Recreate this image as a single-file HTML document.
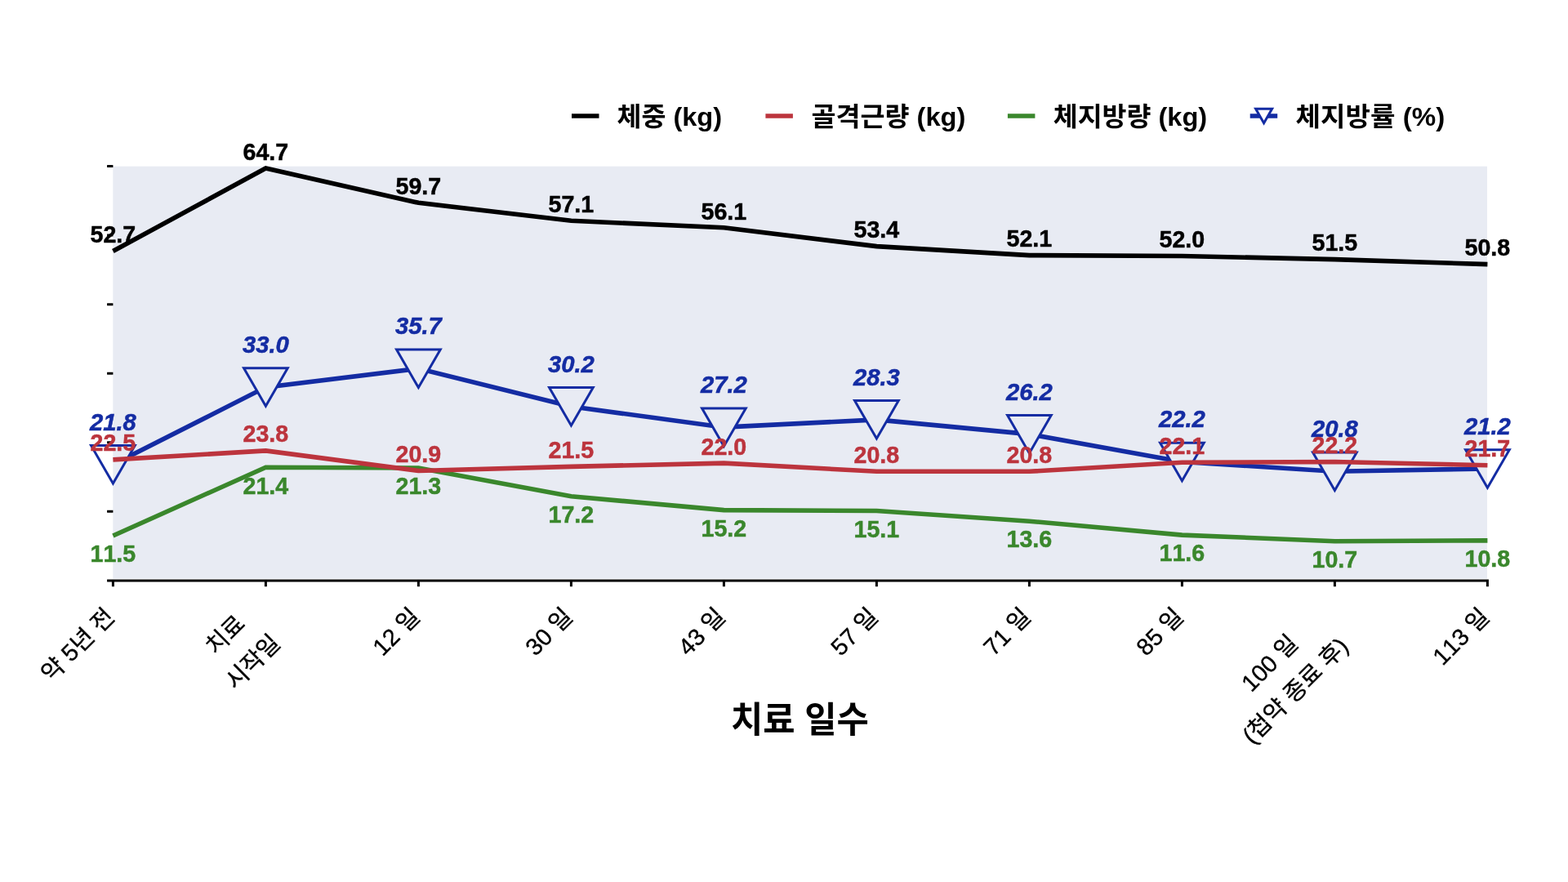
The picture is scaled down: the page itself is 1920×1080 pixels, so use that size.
<!DOCTYPE html>
<html lang="ko"><head><meta charset="utf-8"><title>치료 일수 차트</title>
<style>html,body{margin:0;padding:0;background:#fff;}body{width:1920px;height:1080px;overflow:hidden;font-family:"Liberation Sans","Noto Sans CJK KR",sans-serif;}svg{display:block;will-change:transform;}text{font-family:"Liberation Sans","Noto Sans CJK KR",sans-serif;font-weight:bold;font-kerning:none;stroke-width:0.5px;}.lb{font-size:29.5px;}.it{font-size:30.3px;font-style:italic;}.lg{font-size:32px;fill:#000;stroke:none;}.ttl{font-size:44px;fill:#000;stroke:none;}.xt{font-size:29px;font-weight:normal;fill:#000;stroke:#000;stroke-width:0.35px;}</style>
</head><body>
<svg width="1920" height="1080" viewBox="0 0 1920 1080" role="img" aria-label="치료 일수에 따른 체중, 골격근량, 체지방량, 체지방률 변화">
<rect width="1920" height="1080" fill="#fff"/>
<!-- plot background -->
<rect x="138.3" y="203.7" width="1682.7" height="504.9" fill="#E8EBF3"/>
<!-- y ticks -->
<path d="M131.1 203.5H138.4M131.1 288.07H138.4M131.1 372.64H138.4M131.1 457.21H138.4M131.1 541.78H138.4M131.1 626.35H138.4" stroke="#000" stroke-width="3" fill="none"/>
<!-- x axis + ticks -->
<path d="M131.1 711.1H1822.9M138.4 711.1V718.2M325.4 711.1V718.2M512.4 711.1V718.2M699.4 711.1V718.2M886.4 711.1V718.2M1073.4 711.1V718.2M1260.4 711.1V718.2M1447.4 711.1V718.2M1634.4 711.1V718.2M1821.4 711.1V718.2" stroke="#000" stroke-width="3" fill="none"/>
<!-- series lines (blue, green, red, black) -->
<polyline points="138.4,568.84 325.4,474.12 512.4,451.29 699.4,497.8 886.4,523.17 1073.4,513.87 1260.4,531.63 1447.4,565.46 1634.4,577.3 1821.4,573.92" fill="none" stroke="#142CA3" stroke-width="5.6" stroke-linejoin="miter"/>
<path d="M111.55 545.59H165.25L138.4 592.09ZM298.55 450.87H352.25L325.4 497.37ZM485.55 428.04H539.25L512.4 474.54ZM672.55 474.55H726.25L699.4 521.05ZM859.55 499.92H913.25L886.4 546.42ZM1046.55 490.62H1100.25L1073.4 537.12ZM1233.55 508.38H1287.25L1260.4 554.88ZM1420.55 542.21H1474.25L1447.4 588.71ZM1607.55 554.05H1661.25L1634.4 600.55ZM1794.55 550.67H1848.25L1821.4 597.17Z" fill="#E8EBF3"/>
<path d="M111.55 545.59L138.3 545.59L138.3 591.92ZM1821 550.67L1848.25 550.67L1821.4 597.17L1821 596.47Z" fill="#fff"/>
<path d="M111.55 545.59H165.25L138.4 592.09ZM298.55 450.87H352.25L325.4 497.37ZM485.55 428.04H539.25L512.4 474.54ZM672.55 474.55H726.25L699.4 521.05ZM859.55 499.92H913.25L886.4 546.42ZM1046.55 490.62H1100.25L1073.4 537.12ZM1233.55 508.38H1287.25L1260.4 554.88ZM1420.55 542.21H1474.25L1447.4 588.71ZM1607.55 554.05H1661.25L1634.4 600.55ZM1794.55 550.67H1848.25L1821.4 597.17Z" fill="none" stroke="#142CA3" stroke-width="3" stroke-linejoin="miter"/>
<polyline points="138.4,655.95 325.4,572.23 512.4,573.07 699.4,607.74 886.4,624.66 1073.4,625.5 1260.4,638.19 1447.4,655.1 1634.4,662.72 1821.4,661.87" fill="none" stroke="#3A872C" stroke-width="5.6" stroke-linejoin="miter"/>
<polyline points="138.4,562.92 325.4,551.93 512.4,576.45 699.4,571.38 886.4,567.15 1073.4,577.3 1260.4,577.3 1447.4,566.31 1634.4,565.46 1821.4,569.69" fill="none" stroke="#BC343D" stroke-width="5.6" stroke-linejoin="miter"/>
<polyline points="138.4,307.52 325.4,206.04 512.4,248.32 699.4,270.31 886.4,278.77 1073.4,301.6 1260.4,312.6 1447.4,313.44 1634.4,317.67 1821.4,323.59" fill="none" stroke="#000000" stroke-width="5.6" stroke-linejoin="miter"/>
<!-- data labels -->
<g fill="#142CA3" stroke="#142CA3" class="lb it">
<g transform="translate(138.4 526.84) scale(0.965 1)"><text x="-29.49">21.8</text></g>
<g transform="translate(325.4 432.12) scale(0.965 1)"><text x="-29.49">33.0</text></g>
<g transform="translate(512.4 409.29) scale(0.965 1)"><text x="-29.49">35.7</text></g>
<g transform="translate(699.4 455.8) scale(0.965 1)"><text x="-29.49">30.2</text></g>
<g transform="translate(886.4 481.17) scale(0.965 1)"><text x="-29.49">27.2</text></g>
<g transform="translate(1073.4 471.87) scale(0.965 1)"><text x="-29.49">28.3</text></g>
<g transform="translate(1260.4 489.63) scale(0.965 1)"><text x="-29.49">26.2</text></g>
<g transform="translate(1447.4 523.46) scale(0.965 1)"><text x="-29.49">22.2</text></g>
<g transform="translate(1634.4 535.3) scale(0.965 1)"><text x="-29.49">20.8</text></g>
<g transform="translate(1821.4 531.92) scale(0.965 1)"><text x="-29.49">21.2</text></g>
</g>
<g fill="#3A872C" stroke="#3A872C" class="lb">
<g transform="translate(138.4 688.25) scale(0.97 1)"><text x="-28.71">11.5</text></g>
<g transform="translate(325.4 604.53) scale(0.97 1)"><text x="-28.71">21.4</text></g>
<g transform="translate(512.4 605.37) scale(0.97 1)"><text x="-28.71">21.3</text></g>
<g transform="translate(699.4 640.04) scale(0.97 1)"><text x="-28.71">17.2</text></g>
<g transform="translate(886.4 656.96) scale(0.97 1)"><text x="-28.71">15.2</text></g>
<g transform="translate(1073.4 657.8) scale(0.97 1)"><text x="-28.71">15.1</text></g>
<g transform="translate(1260.4 670.49) scale(0.97 1)"><text x="-28.71">13.6</text></g>
<g transform="translate(1447.4 687.4) scale(0.97 1)"><text x="-28.71">11.6</text></g>
<g transform="translate(1634.4 695.02) scale(0.97 1)"><text x="-28.71">10.7</text></g>
<g transform="translate(1821.4 694.17) scale(0.97 1)"><text x="-28.71">10.8</text></g>
</g>
<g fill="#BC343D" stroke="#BC343D" class="lb">
<g transform="translate(138.4 552.32) scale(0.97 1)"><text x="-28.71">22.5</text></g>
<g transform="translate(325.4 541.33) scale(0.97 1)"><text x="-28.71">23.8</text></g>
<g transform="translate(512.4 565.85) scale(0.97 1)"><text x="-28.71">20.9</text></g>
<g transform="translate(699.4 560.78) scale(0.97 1)"><text x="-28.71">21.5</text></g>
<g transform="translate(886.4 556.55) scale(0.97 1)"><text x="-28.71">22.0</text></g>
<g transform="translate(1073.4 566.7) scale(0.97 1)"><text x="-28.71">20.8</text></g>
<g transform="translate(1260.4 566.7) scale(0.97 1)"><text x="-28.71">20.8</text></g>
<g transform="translate(1447.4 555.71) scale(0.97 1)"><text x="-28.71">22.1</text></g>
<g transform="translate(1634.4 554.86) scale(0.97 1)"><text x="-28.71">22.2</text></g>
<g transform="translate(1821.4 559.09) scale(0.97 1)"><text x="-28.71">21.7</text></g>
</g>
<g fill="#000000" stroke="#000000" class="lb">
<g transform="translate(138.4 297.32) scale(0.97 1)"><text x="-28.71">52.7</text></g>
<g transform="translate(325.4 195.84) scale(0.97 1)"><text x="-28.71">64.7</text></g>
<g transform="translate(512.4 238.12) scale(0.97 1)"><text x="-28.71">59.7</text></g>
<g transform="translate(699.4 260.11) scale(0.97 1)"><text x="-28.71">57.1</text></g>
<g transform="translate(886.4 268.57) scale(0.97 1)"><text x="-28.71">56.1</text></g>
<g transform="translate(1073.4 291.4) scale(0.97 1)"><text x="-28.71">53.4</text></g>
<g transform="translate(1260.4 302.4) scale(0.97 1)"><text x="-28.71">52.1</text></g>
<g transform="translate(1447.4 303.24) scale(0.97 1)"><text x="-28.71">52.0</text></g>
<g transform="translate(1634.4 307.47) scale(0.97 1)"><text x="-28.71">51.5</text></g>
<g transform="translate(1821.4 313.39) scale(0.97 1)"><text x="-28.71">50.8</text></g>
</g>
<!-- legend -->
<path d="M700 142.0H733.5" stroke="#000000" stroke-width="5.7"/>
<path d="M937.4 142.0H970.9" stroke="#BC343D" stroke-width="5.7"/>
<path d="M1233.9 142.0H1267.4" stroke="#3A872C" stroke-width="5.7"/>
<path d="M1530.7 142.0H1564.2" stroke="#142CA3" stroke-width="5.7"/>
<path d="M1537.6 133.35H1557.6L1547.6 150.65Z" fill="#fff" stroke="#142CA3" stroke-width="3"/>
<text class="lg" x="755.5" y="153.75" textLength="128.6" lengthAdjust="spacingAndGlyphs">체중 (kg)</text>
<text class="lg" x="993.6" y="153.75" textLength="188.7" lengthAdjust="spacingAndGlyphs">골격근량 (kg)</text>
<text class="lg" x="1289.7" y="153.75" textLength="188.5" lengthAdjust="spacingAndGlyphs">체지방량 (kg)</text>
<text class="lg" x="1586.6" y="153.75" textLength="182.6" lengthAdjust="spacingAndGlyphs">체지방률 (%)</text>
<!-- x axis title -->
<text class="ttl" x="979.4" y="897" text-anchor="middle" textLength="169" lengthAdjust="spacingAndGlyphs">치료 일수</text>
<!-- x tick labels -->
<text class="xt" text-anchor="end" transform="translate(141.9 757) rotate(-45)">약 5년 전</text>
<text class="xt" text-anchor="end" transform="translate(301.8 765.5) rotate(-45)">치료</text>
<text class="xt" text-anchor="end" transform="translate(344.8 789.3) rotate(-45)">시작일</text>
<text class="xt" text-anchor="end" transform="translate(515.9 757) rotate(-45)">12 일</text>
<text class="xt" text-anchor="end" transform="translate(702.9 757) rotate(-45)">30 일</text>
<text class="xt" text-anchor="end" transform="translate(889.9 757) rotate(-45)">43 일</text>
<text class="xt" text-anchor="end" transform="translate(1076.9 757) rotate(-45)">57 일</text>
<text class="xt" text-anchor="end" transform="translate(1263.9 757) rotate(-45)">71 일</text>
<text class="xt" text-anchor="end" transform="translate(1450.9 757) rotate(-45)">85 일</text>
<text class="xt" text-anchor="end" transform="translate(1591 789.7) rotate(-45)">100 일</text>
<text class="xt" text-anchor="end" transform="translate(1652.8 793.1) rotate(-45)">(첩약 종료 후)</text>
<text class="xt" text-anchor="end" transform="translate(1825.4 757.1) rotate(-45)">113 일</text>
</svg></body></html>
